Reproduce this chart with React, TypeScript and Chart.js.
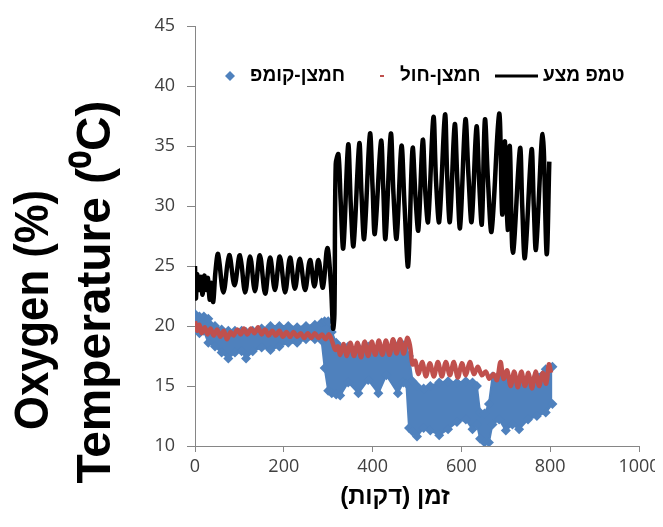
import React, { useEffect, useRef } from 'react';
import { Chart, registerables } from 'chart.js';

Chart.register(...registerables);

// ---- tick labels ----
const xTicks = [0, 200, 400, 600, 800, 1000];
const yTicks = [10, 15, 20, 25, 30, 35, 40, 45];

// ---- text ----
const seriesNames = ['טמפ מצע', 'חמצן-חול', 'חמצן-קומפ'];
const xTitle = 'זמן (דקות)\u200F';
const yTitle = ['Oxygen (%)', 'Temperature (\u2070C)'];

// ---- temperature of medium (black line) ----
const tempTime = [
  0, 2, 5, 9, 13, 17, 21, 25, 29, 33,
  37, 41, 46, 52, 64, 77, 89, 101, 113, 124,
  135, 146, 158, 169, 180, 191, 203, 214, 225, 236,
  248, 259, 269, 278, 288, 298, 306, 311, 314, 317,
  323, 328, 334, 345, 351, 357, 370, 375, 381, 394,
  400, 405, 419, 424, 429, 441, 447, 454, 465, 472,
  480, 490, 497, 503, 513, 519, 525, 537, 543, 550,
  563, 568, 574, 585, 591, 597, 609, 616, 623, 634,
  640, 646, 653, 660, 668, 685, 692, 698, 704, 709,
  716, 732, 737, 743, 758, 763, 768, 783, 792, 798,
];
const tempValue = [
  25.0, 22.3, 24.3, 23.0, 24.1, 22.6, 24.2, 23.0, 24.0, 22.2,
  23.6, 22.0, 24.5, 26.0, 22.8, 25.9, 23.4, 25.9, 22.8, 25.8,
  22.9, 25.9, 22.7, 25.7, 23.0, 25.8, 22.8, 25.7, 23.1, 25.6,
  23.0, 25.5, 23.3, 25.5, 23.2, 26.5, 23.5, 19.8, 21.0, 33.5,
  34.3, 30.5, 26.5, 35.1, 30.0, 26.7, 35.2, 31.0, 27.3, 36.0,
  31.5, 27.7, 35.4, 31.5, 27.3, 36.0, 31.0, 27.3, 35.0, 30.0,
  25.0, 34.8, 30.5, 28.0, 35.5, 31.0, 28.7, 37.4, 32.0, 28.7,
  37.6, 32.5, 28.7, 36.8, 32.0, 28.2, 37.2, 32.5, 28.7, 36.6,
  32.0, 28.5, 37.2, 32.0, 27.9, 37.7, 29.3, 35.4, 28.0, 35.0,
  26.1, 34.8, 30.0, 25.7, 34.7, 30.0, 26.4, 36.0, 26.0, 33.7,
];

// ---- oxygen in sand (red line) ----
const sandTime = [
  0, 5, 10, 15, 22, 28, 35, 42, 50, 57,
  65, 72, 80, 87, 95, 103, 110, 118, 126, 134,
  142, 150, 158, 166, 174, 182, 190, 198, 206, 214,
  222, 230, 238, 246, 254, 262, 270, 278, 286, 294,
  302, 310, 316, 322, 327, 335, 342, 350, 358, 366,
  374, 382, 390, 398, 406, 414, 422, 430, 438, 446,
  454, 462, 470, 478, 484, 490, 496, 503, 512, 520,
  529, 538, 547, 556, 565, 574, 583, 592, 601, 610,
  619, 628, 637, 646, 655, 663, 672, 680, 688, 695,
  703, 711, 719, 727, 735, 743, 751, 759, 767, 775,
  783, 791, 797, 802,
];
const sandValue = [
  20.4, 19.6, 20.1, 19.4, 19.9, 19.3, 19.8, 19.2, 19.7, 19.1,
  19.6, 18.9, 19.5, 19.2, 19.7, 19.3, 19.8, 19.3, 19.8, 19.4,
  19.9, 19.3, 19.7, 19.2, 19.6, 19.2, 19.6, 19.1, 19.5, 19.1,
  19.5, 19.1, 19.4, 19.0, 19.4, 19.0, 19.4, 19.0, 19.3, 18.9,
  19.3, 18.6, 18.0, 18.3, 17.6, 18.5, 17.5, 18.6, 17.5, 18.6,
  17.4, 18.7, 17.5, 18.7, 17.6, 18.8, 17.6, 18.8, 17.6, 18.9,
  17.7, 18.9, 17.7, 19.0, 18.4, 16.8, 17.1, 16.0, 17.0, 15.8,
  16.9, 15.8, 17.0, 15.8, 17.0, 15.9, 17.0, 15.7, 16.9, 15.9,
  17.0, 16.0, 16.6, 15.9, 16.2, 15.6, 16.0, 15.5, 17.0, 15.6,
  16.3, 15.0, 16.2, 14.9, 16.2, 15.0, 16.1, 14.8, 16.2, 15.0,
  16.1, 15.2, 16.8, 16.1,
];

// ---- oxygen in compost (blue markers: upper and lower envelope of the band) ----
const compTime = [
  0, 10, 20, 30, 45, 60, 75, 90, 105, 115,
  130, 150, 170, 190, 210, 230, 250, 270, 285, 292,
  300, 308, 318, 327, 345, 368, 390, 413, 431, 457,
  469, 476, 482, 490, 500, 515, 530, 550, 570, 590,
  610, 625, 635, 642, 652, 662, 670, 685, 700, 715,
  730, 750, 770, 790, 805,
];
const compHigh = [
  21.0, 20.8, 20.8, 20.6, 20.0, 19.7, 19.6, 19.6, 19.6, 19.5,
  19.6, 19.8, 20.0, 20.0, 20.0, 19.9, 20.0, 20.1, 20.3, 20.4,
  20.4, 19.5, 18.6, 18.2, 18.3, 18.2, 18.3, 18.2, 18.3, 18.4,
  18.4, 18.3, 17.5, 15.4, 15.0, 14.8, 15.0, 15.3, 15.4, 15.3,
  15.4, 15.3, 15.0, 12.8, 12.7, 13.5, 15.8, 15.9, 15.6, 15.3,
  15.2, 15.4, 15.8, 16.4, 16.6,
];
const compLow = [
  19.8, 19.4, 19.6, 18.6, 18.3, 17.8, 17.3, 17.8, 17.9, 17.3,
  17.9, 18.2, 18.0, 18.3, 18.6, 18.6, 18.9, 18.9, 18.8, 16.5,
  14.6, 14.4, 14.3, 14.2, 15.3, 14.4, 15.5, 14.4, 15.9, 14.4,
  15.3, 15.2, 11.5, 11.2, 10.8, 11.5, 11.3, 10.9, 11.4, 12.0,
  12.2, 11.4, 11.8, 10.6, 10.3, 10.3, 11.8, 12.2, 11.3, 11.8,
  11.4, 12.2, 12.5, 12.8, 13.5,
];

const BLACK = '#000000';
const RED = '#C0504D';
const BLUE = '#4F81BD';
const AXIS = '#868686';
const TICK_TEXT = '#404040';
const HEB_FONT = '"Liberation Sans", Arial, sans-serif';
const NUM_FONT = '"Open Sans", "Liberation Sans", sans-serif';

const pts = (xs: number[], ys: number[]) => xs.map((x, i) => ({ x, y: ys[i] }));

const textPlugin = {
  id: 'textPlugin',
  afterDraw(chart: any) {
    const { ctx, chartArea } = chart;
    const L = chartArea.left;
    const T = chartArea.top;
    ctx.save();

    // y-axis title (two rotated lines)
    ctx.fillStyle = '#000';
    ctx.font = `bold 48px ${HEB_FONT}`;
    ctx.textAlign = 'center';
    ctx.textBaseline = 'middle';
    const yLines: [string, number, number, number][] = [
      [yTitle[0], 27, 302, 240],
      [yTitle[1], 89, 284, 383],
    ];
    yLines.forEach(([txt, cx, cy, mw]) => {
      ctx.save();
      ctx.translate(cx, cy);
      ctx.rotate(-Math.PI / 2);
      ctx.fillText(txt, 0, 0, mw);
      ctx.restore();
    });

    // x-axis title
    ctx.direction = 'rtl';
    ctx.font = `bold 24px ${HEB_FONT}`;
    ctx.textAlign = 'center';
    ctx.fillText(xTitle, L + 200, chartArea.bottom + 51);

    // legend
    const ly = T + 50;
    ctx.font = `bold 19px ${HEB_FONT}`;
    ctx.textAlign = 'left';
    // diamond marker (compost)
    ctx.fillStyle = BLUE;
    const dx = L + 35;
    ctx.beginPath();
    ctx.moveTo(dx, ly - 5);
    ctx.lineTo(dx + 5, ly);
    ctx.lineTo(dx, ly + 5);
    ctx.lineTo(dx - 5, ly);
    ctx.closePath();
    ctx.fill();
    ctx.fillStyle = '#000';
    ctx.fillText(seriesNames[2], L + 55, ly);
    // red dash (sand)
    ctx.fillStyle = RED;
    ctx.fillRect(L + 185, ly - 1, 4, 2);
    ctx.fillStyle = '#000';
    ctx.fillText(seriesNames[1], L + 205, ly);
    // black line (temperature)
    ctx.strokeStyle = BLACK;
    ctx.lineWidth = 3;
    ctx.beginPath();
    ctx.moveTo(L + 300, ly);
    ctx.lineTo(L + 343, ly);
    ctx.stroke();
    ctx.fillText(seriesNames[0], L + 348, ly);

    ctx.restore();
  },
};

export default function App() {
  const ref = useRef<HTMLCanvasElement>(null);

  useEffect(() => {
    const canvas = ref.current;
    if (!canvas) return;
    const chart = new Chart(canvas, {
      type: 'scatter',
      data: {
        datasets: [
          {
            label: seriesNames[0],
            data: pts(tempTime, tempValue),
            showLine: true,
            borderColor: BLACK,
            borderWidth: 4.5,
            pointRadius: 0,
            tension: 0.35,
          },
          {
            label: seriesNames[1],
            data: pts(sandTime, sandValue),
            showLine: true,
            borderColor: RED,
            borderWidth: 4.5,
            pointRadius: 0,
            tension: 0.35,
          },
          {
            label: seriesNames[2],
            data: pts(compTime, compHigh),
            showLine: true,
            borderColor: BLUE,
            borderWidth: 2,
            pointStyle: 'rectRot',
            pointRadius: 5,
            pointBackgroundColor: BLUE,
            pointBorderWidth: 0,
            tension: 0,
          },
          {
            label: seriesNames[2] + ' ',
            data: pts(compTime, compLow),
            showLine: true,
            borderColor: BLUE,
            borderWidth: 2,
            pointStyle: 'rectRot',
            pointRadius: 5,
            pointBackgroundColor: BLUE,
            pointBorderWidth: 0,
            backgroundColor: BLUE,
            fill: '-1',
            tension: 0,
          },
        ],
      },
      options: {
        animation: false,
        responsive: false,
        layout: { padding: { top: 18, right: 16, left: 0, bottom: 0 } },
        plugins: {
          legend: { display: false },
          tooltip: { enabled: false },
        },
        scales: {
          x: {
            type: 'linear',
            min: 0,
            max: 1000,
            afterBuildTicks: (s: any) => {
              s.ticks = xTicks.map((v) => ({ value: v }));
            },
            grid: {
              display: true,
              drawOnChartArea: false,
              drawTicks: true,
              tickLength: 6,
              color: AXIS,
            },
            border: { display: true, color: AXIS, width: 1 },
            ticks: {
              font: { family: NUM_FONT, size: 18 },
              color: TICK_TEXT,
              padding: 4,
              maxRotation: 0,
              callback: (v: any) => String(v),
            },
            afterFit: (s: any) => {
              s.height = 73;
              s.paddingLeft = 0;
              s.paddingRight = 0;
            },
          },
          y: {
            type: 'linear',
            min: 10,
            max: 45,
            afterBuildTicks: (s: any) => {
              s.ticks = yTicks.map((v) => ({ value: v }));
            },
            grid: {
              display: true,
              drawOnChartArea: false,
              drawTicks: true,
              tickLength: 8,
              color: AXIS,
            },
            border: { display: true, color: AXIS, width: 1 },
            ticks: {
              font: { family: NUM_FONT, size: 18 },
              color: TICK_TEXT,
              padding: 12,
              callback: (v: any) => String(v),
            },
            afterFit: (s: any) => {
              s.width = 187;
              s.paddingTop = 0;
              s.paddingBottom = 0;
            },
          },
        },
      },
      plugins: [textPlugin],
    } as any);
    return () => chart.destroy();
  }, []);

  return (
    <div style={{ width: 647, height: 511 }}>
      <canvas ref={ref} width={647} height={511} style={{ display: 'block' }} />
    </div>
  );
}
